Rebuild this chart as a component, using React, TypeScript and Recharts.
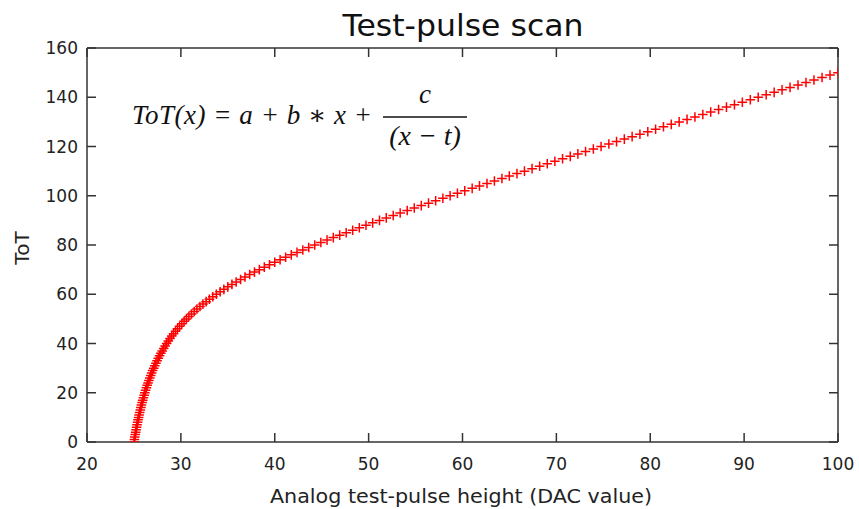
import React from "react";
import { ScatterChart, Scatter, XAxis, YAxis } from "recharts";

const totValues: number[] = [
  0, 1, 2, 3, 4, 5, 6, 7, 8, 9, 10, 11, 12, 13, 14, 15, 16, 17, 18, 19,
  20, 21, 22, 23, 24, 25, 26, 27, 28, 29, 30, 31, 32, 33, 34, 35, 36, 37, 38, 39,
  40, 41, 42, 43, 44, 45, 46, 47, 48, 49, 50, 51, 52, 53, 54, 55, 56, 57, 58, 59,
  60, 61, 62, 63, 64, 65, 66, 67, 68, 69, 70, 71, 72, 73, 74, 75, 76, 77, 78, 79,
  80, 81, 82, 83, 84, 85, 86, 87, 88, 89, 90, 91, 92, 93, 94, 95, 96, 97, 98, 99,
  100, 101, 102, 103, 104, 105, 106, 107, 108, 109, 110, 111, 112, 113, 114, 115, 116, 117, 118, 119,
  120, 121, 122, 123, 124, 125, 126, 127, 128, 129, 130, 131, 132, 133, 134, 135, 136, 137, 138, 139,
  140, 141, 142, 143, 144, 145, 146, 147, 148, 149, 150,
];

const dacValues: number[] = [
  25.01, 25.05, 25.09, 25.14, 25.19, 25.23, 25.28, 25.33, 25.39, 25.44,
  25.5, 25.55, 25.61, 25.68, 25.74, 25.8, 25.87, 25.94, 26.01, 26.09,
  26.16, 26.24, 26.33, 26.41, 26.5, 26.59, 26.69, 26.79, 26.89, 26.99,
  27.11, 27.22, 27.34, 27.46, 27.59, 27.73, 27.87, 28.01, 28.17, 28.32,
  28.49, 28.66, 28.84, 29.03, 29.22, 29.43, 29.64, 29.86, 30.1, 30.34,
  30.59, 30.85, 31.13, 31.42, 31.71, 32.03, 32.35, 32.69, 33.04, 33.4,
  33.78, 34.18, 34.58, 35.0, 35.44, 35.89, 36.36, 36.83, 37.33, 37.84,
  38.36, 38.89, 39.44, 40.0, 40.57, 41.16, 41.76, 42.37, 42.99, 43.62,
  44.26, 44.91, 45.57, 46.24, 46.92, 47.61, 48.3, 49.01, 49.72, 50.43,
  51.16, 51.88, 52.62, 53.36, 54.11, 54.86, 55.61, 56.38, 57.14, 57.91,
  58.68, 59.46, 60.24, 61.03, 61.81, 62.61, 63.4, 64.2, 64.99, 65.8,
  66.6, 67.41, 68.22, 69.03, 69.84, 70.66, 71.48, 72.29, 73.11, 73.94,
  74.76, 75.59, 76.41, 77.24, 78.07, 78.9, 79.74, 80.57, 81.41, 82.24,
  83.08, 83.92, 84.76, 85.6, 86.44, 87.28, 88.12, 88.97, 89.81, 90.66,
  91.5, 92.35, 93.2, 94.04, 94.89, 95.74, 96.59, 97.44, 98.3, 99.15,
  100.0,
];

const xTicks = [20, 30, 40, 50, 60, 70, 80, 90, 100];
const yTicks = [0, 20, 40, 60, 80, 100, 120, 140, 160];

const titleText = "Test-pulse scan";
const xLabelText = "Analog test-pulse height (DAC value)";
const yLabelText = "ToT";

const data = dacValues.map((x, i) => ({ x, y: totValues[i] }));

const W = 859;
const H = 509;
const FONT = "'DejaVu Sans', Verdana, sans-serif";
const AXIS_COLOR = "#333333";
const TEXT_COLOR = "#222222";
const TICK_LEN = 9;
const MARGIN = 8;

const Cross = (props: any) => {
  const { cx, cy } = props;
  if (cx == null || cy == null) return null;
  const r = 4.8;
  return (
    <path
      d={`M${cx - r},${cy}H${cx + r}M${cx},${cy - r}V${cy + r}`}
      stroke="#ff0000"
      strokeWidth={1.5}
      fill="none"
    />
  );
};

const BottomTick = (props: any) => {
  const { x, y, payload } = props;
  const axisY = y - MARGIN;
  return (
    <g>
      <line x1={x} x2={x} y1={axisY} y2={axisY - TICK_LEN} stroke={AXIS_COLOR} strokeWidth={1.5} />
      <text x={x} y={y + 8} dy="0.71em" textAnchor="middle" fontFamily={FONT} fontSize={17} fill={TEXT_COLOR}>
        {payload.value}
      </text>
    </g>
  );
};

const TopTick = (props: any) => {
  const { x, y } = props;
  const axisY = y + MARGIN;
  return <line x1={x} x2={x} y1={axisY} y2={axisY + TICK_LEN} stroke={AXIS_COLOR} strokeWidth={1.5} />;
};

const LeftTick = (props: any) => {
  const { x, y, payload } = props;
  const axisX = x + MARGIN;
  return (
    <g>
      <line x1={axisX} x2={axisX + TICK_LEN} y1={y} y2={y} stroke={AXIS_COLOR} strokeWidth={1.5} />
      <text x={axisX - 9} y={y} dy="0.355em" textAnchor="end" fontFamily={FONT} fontSize={17} fill={TEXT_COLOR}>
        {payload.value}
      </text>
    </g>
  );
};

const RightTick = (props: any) => {
  const { x, y } = props;
  const axisX = x - MARGIN;
  return <line x1={axisX} x2={axisX - TICK_LEN} y1={y} y2={y} stroke={AXIS_COLOR} strokeWidth={1.5} />;
};

export default function App() {
  return (
    <div style={{ position: "absolute", left: 0, top: 0, width: W, height: H, background: "#fff" }}>
      <ScatterChart
        width={W}
        height={H}
        margin={{ top: 47, right: 20, bottom: 37, left: 27 }}
      >
        <XAxis
          xAxisId="b"
          type="number"
          dataKey="x"
          domain={[20, 100]}
          ticks={xTicks}
          allowDataOverflow
          height={30}
          stroke={AXIS_COLOR}
          strokeWidth={1.5}
          tickLine={false}
          tickSize={0}
          tickMargin={MARGIN}
          tick={<BottomTick />}
        />
        <XAxis
          xAxisId="t"
          orientation="top"
          type="number"
          dataKey="x"
          domain={[20, 100]}
          ticks={xTicks}
          allowDataOverflow
          height={1}
          stroke={AXIS_COLOR}
          strokeWidth={1.5}
          tickLine={false}
          tickSize={0}
          tickMargin={MARGIN}
          tick={<TopTick />}
        />
        <YAxis
          yAxisId="l"
          type="number"
          dataKey="y"
          domain={[0, 160]}
          ticks={yTicks}
          allowDataOverflow
          width={60}
          stroke={AXIS_COLOR}
          strokeWidth={1.5}
          tickLine={false}
          tickSize={0}
          tickMargin={MARGIN}
          tick={<LeftTick />}
        />
        <YAxis
          yAxisId="r"
          orientation="right"
          type="number"
          dataKey="y"
          domain={[0, 160]}
          ticks={yTicks}
          allowDataOverflow
          width={1}
          stroke={AXIS_COLOR}
          strokeWidth={1.5}
          tickLine={false}
          tickSize={0}
          tickMargin={MARGIN}
          tick={<RightTick />}
        />
        <Scatter
          data={data}
          xAxisId="b"
          yAxisId="l"
          shape={<Cross />}
          isAnimationActive={false}
        />
      </ScatterChart>
      <svg
        width={W}
        height={H}
        style={{ position: "absolute", left: 0, top: 0, pointerEvents: "none" }}
      >
        <text
          x={463}
          y={35.5}
          textAnchor="middle"
          fontFamily={FONT}
          fontSize={31}
          fill="#111"
          textLength={241}
          lengthAdjust="spacingAndGlyphs"
        >
          {titleText}
        </text>
        <text
          x={461}
          y={503}
          textAnchor="middle"
          fontFamily={FONT}
          fontSize={20}
          fill={TEXT_COLOR}
          textLength={382}
          lengthAdjust="spacingAndGlyphs"
        >
          {xLabelText}
        </text>
        <text
          x={29}
          y={248}
          textAnchor="middle"
          fontFamily={FONT}
          fontSize={20}
          fill={TEXT_COLOR}
          transform="rotate(-90 29 248)"
        >
          {yLabelText}
        </text>
        <g fontFamily="'Liberation Serif', 'DejaVu Serif', serif" fontStyle="italic" fontSize={27} fill="#111">
          <text x={132} y={124} textLength={240} lengthAdjust="spacing">
            ToT(x) = a + b ∗ x +
          </text>
          <text x={425} y={103} textAnchor="middle">c</text>
          <line x1={383} x2={467} y1={117} y2={117} stroke="#111" strokeWidth={1.3} />
          <text x={425} y={145} textAnchor="middle" fontSize={28}>(x − t)</text>
        </g>
      </svg>
    </div>
  );
}
